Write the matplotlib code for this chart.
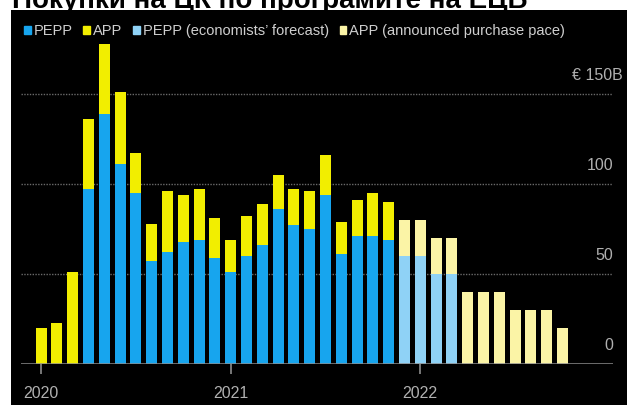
import numpy as np
import pandas as pd
import matplotlib
matplotlib.use("Agg")
import matplotlib.pyplot as plt
from matplotlib.patches import Rectangle, Patch
from matplotlib import transforms

# Monthly purchases, EUR billions
months = pd.date_range("2020-01-01", "2022-10-01", freq="MS")

# Realised purchases, Jan 2020 - Nov 2021
pepp = [0, 0, 0, 97, 139, 111, 95, 57, 62, 68, 69, 59,
        51, 60, 66, 86, 77, 75, 94, 61, 71, 71, 69]
app = [20, 23, 51, 39, 39, 40, 22, 21, 34, 26, 28, 22,
       18, 22, 23, 19, 20, 21, 22, 18, 20, 24, 21]

# Forward-looking part, Dec 2021 onwards
pepp_forecast = [60, 60, 50, 50]
app_pace = [20, 20, 20, 20, 40, 40, 40, 30, 30, 30, 20]

y_ticks = [0, 50, 100, 150]
y_tick_labels = ["0", "50", "100", "\u20ac 150B"]

title = "Покупки на ЦК по програмите на ЕЦБ"
legend_labels = ["PEPP", "APP", "PEPP (economists\u2019 forecast)",
                 "APP (announced purchase pace)"]

C_PEPP = "#17a5ee"
C_APP = "#f2ee00"
C_PEPP_FC = "#8fd2f6"
C_APP_FC = "#fbf4a6"
C_GRID = "#6a6a6a"
C_TEXT = "#b0b0b0"

W, H = 627, 405
fig = plt.figure(figsize=(W / 100, H / 100), dpi=100, facecolor="white")

# title sits partly above the canvas edge
fig.text(12 / W, 1 - 7.5 / H, title, fontsize=20, fontweight="bold",
         family=["Liberation Sans", "DejaVu Sans"], color="black",
         ha="left", va="baseline", zorder=0.5)

# black panel
fig.patches.append(Rectangle((11 / W, 0), 1 - 11 / W, 1 - 10 / H,
                             transform=fig.transFigure, facecolor="black",
                             edgecolor="none", zorder=1))

ax = fig.add_axes([21 / W, 41 / H, 592 / W, 324 / H])
ax.set_facecolor("none")
ax.set_zorder(2)

x = np.arange(len(months))
n_real = len(pepp)
x_real = x[:n_real]
x_fc = x[n_real:n_real + len(app_pace)]
width = 0.7

ax.bar(x_real, pepp, width, color=C_PEPP, zorder=3)
ax.bar(x_real, app, width, bottom=pepp, color=C_APP, zorder=3)

fc_bottom = pepp_forecast + [0] * (len(app_pace) - len(pepp_forecast))
ax.bar(x_fc[:len(pepp_forecast)], pepp_forecast, width, color=C_PEPP_FC, zorder=3)
ax.bar(x_fc, app_pace, width, bottom=fc_bottom, color=C_APP_FC, zorder=3)

ax.set_xlim(-1.27, 36.2)
ax.set_ylim(0, 180)

# gridlines and baseline
for v in y_ticks[1:]:
    ax.axhline(v, color=C_GRID, lw=1.0, ls=(0, (1, 1)), zorder=1)
ax.axhline(0, color="#8c8c8c", lw=1.8, zorder=4)

for s in ax.spines.values():
    s.set_visible(False)

tick_font = ["Liberation Sans", "DejaVu Sans"]

# y labels above the gridlines, on the right
ax.set_yticks([])
for v, lab in zip(y_ticks, y_tick_labels):
    dx = 10 if lab.endswith("B") else 0
    t = transforms.offset_copy(ax.get_yaxis_transform(), fig=fig,
                               x=dx, y=18, units="dots")
    ax.text(1.0, v, lab, transform=t, ha="right", va="center",
            fontsize=11.5, color=C_TEXT, family=tick_font)

# year ticks
year_pos = [i for i, m in enumerate(months) if m.month == 1]
year_lab = [str(months[i].year) for i in year_pos]
ax.set_xticks(year_pos)
ax.set_xticklabels(year_lab, fontsize=11.5, color=C_TEXT, family=tick_font)
ax.tick_params(axis="x", length=7, width=1.2, color="#8c8c8c", pad=9)

# legend
handles = [Patch(color=c) for c in (C_PEPP, C_APP, C_PEPP_FC, C_APP_FC)]
leg = fig.legend(handles, legend_labels, loc="upper left",
                 bbox_to_anchor=(24 / W, 1 - 24 / H), ncol=4, frameon=False,
                 handlelength=0.45, handleheight=0.5, handletextpad=0.2,
                 columnspacing=0.75, borderpad=0, borderaxespad=0,
                 prop={"family": "Liberation Sans", "size": 10.5})
for t in leg.get_texts():
    t.set_color("#cfcfcf")
leg.set_zorder(5)

fig.savefig("out.png", dpi=100, facecolor="white")
